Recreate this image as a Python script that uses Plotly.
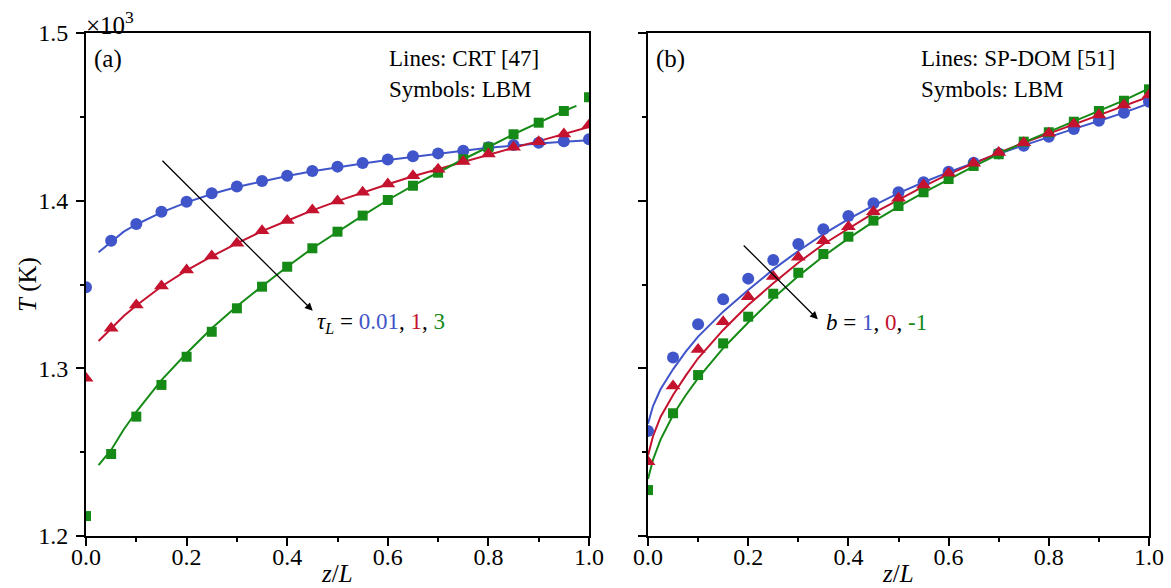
import plotly.graph_objects as go

# ---------------- data ----------------
z_sym = [0.0, 0.05, 0.1, 0.15, 0.2, 0.25, 0.3, 0.35, 0.4, 0.45, 0.5,
         0.55, 0.6, 0.65, 0.7, 0.75, 0.8, 0.85, 0.9, 0.95, 1.0]

# Panel (a): tau_L = 0.01, 1, 3  (T in 10^3 K)
a_blue_sym = [1.3483, 1.3761, 1.3861, 1.3934, 1.3994, 1.4044, 1.4085, 1.4117, 1.4149, 1.4177, 1.4203,
              1.4225, 1.4245, 1.4265, 1.4282, 1.4298, 1.4318, 1.4332, 1.4346, 1.4354, 1.4366]
a_red_sym = [1.2941, 1.3239, 1.3378, 1.3491, 1.3586, 1.3670, 1.3746, 1.3821, 1.3881, 1.3944, 1.3998,
             1.4050, 1.4099, 1.4149, 1.4187, 1.4233, 1.4278, 1.4318, 1.4352, 1.4398, 1.4451]
a_green_sym = [1.2119, 1.2489, 1.2712, 1.2901, 1.3069, 1.3218, 1.3358, 1.3487, 1.3606, 1.3716, 1.3815,
               1.3911, 1.4004, 1.4089, 1.4167, 1.4247, 1.4318, 1.4396, 1.4465, 1.4535, 1.4617]

a_z_line = [0.025, 0.05, 0.075, 0.1, 0.15, 0.2, 0.25, 0.3, 0.35, 0.4, 0.45, 0.5,
            0.55, 0.6, 0.65, 0.7, 0.75, 0.8, 0.85, 0.9, 0.95, 0.975, 1.0]
a_blue_line = [1.3692, 1.3755, 1.3815, 1.3858, 1.3930, 1.3990, 1.4040, 1.4082, 1.4115, 1.4147, 1.4175, 1.4200,
               1.4222, 1.4242, 1.4262, 1.4280, 1.4298, 1.4315, 1.4329, 1.4341, 1.4351, 1.4356, 1.4360]
a_red_line = [1.3163, 1.3235, 1.3312, 1.3375, 1.3488, 1.3584, 1.3668, 1.3745, 1.3818, 1.3880, 1.3942, 1.3997,
              1.4049, 1.4098, 1.4146, 1.4189, 1.4232, 1.4275, 1.4316, 1.4355, 1.4397, 1.4418, 1.4440]
a_green_line = [1.2423, 1.2513, 1.2635, 1.2741, 1.2930, 1.3090, 1.3239, 1.3370, 1.3490, 1.3606, 1.3716, 1.3815,
                1.3911, 1.4004, 1.4089, 1.4168, 1.4247, 1.4320, 1.4396, 1.4465, 1.4535, 1.4565, None]

# Panel (b): b = 1, 0, -1
b_blue_sym = [1.2626, 1.3064, 1.3263, 1.3412, 1.3535, 1.3646, 1.3742, 1.3829, 1.3908, 1.3984, 1.4050,
              1.4110, 1.4173, 1.4226, 1.4282, 1.4328, 1.4381, 1.4427, 1.4477, 1.4525, 1.4590]
b_red_sym = [1.2443, 1.2895, 1.3113, 1.3278, 1.3427, 1.3547, 1.3662, 1.3761, 1.3845, 1.3934, 1.4014,
             1.4093, 1.4163, 1.4223, 1.4288, 1.4346, 1.4402, 1.4457, 1.4511, 1.4571, 1.4630]
b_green_sym = [1.2274, 1.2732, 1.2960, 1.3149, 1.3308, 1.3445, 1.3570, 1.3682, 1.3785, 1.3881, 1.3968,
               1.4050, 1.4129, 1.4207, 1.4277, 1.4352, 1.4408, 1.4471, 1.4535, 1.4596, 1.4664]

b_z_line = [0.0, 0.01, 0.025, 0.05, 0.075, 0.1, 0.15, 0.2, 0.25, 0.3, 0.35, 0.4, 0.45, 0.5,
            0.55, 0.6, 0.65, 0.7, 0.75, 0.8, 0.85, 0.9, 0.95, 1.0]
b_blue_line = [1.2670, 1.2775, 1.2875, 1.2994, 1.3098, 1.3189, 1.3338, 1.3467, 1.3590, 1.3700, 1.3800, 1.3890,
               1.3970, 1.4045, 1.4110, 1.4170, 1.4225, 1.4280, 1.4330, 1.4380, 1.4428, 1.4475, 1.4525, 1.4580]
b_red_line = [1.2480, 1.2595, 1.2710, 1.2841, 1.2955, 1.3060, 1.3229, 1.3378, 1.3507, 1.3630, 1.3740, 1.3835,
              1.3925, 1.4005, 1.4085, 1.4158, 1.4222, 1.4285, 1.4345, 1.4400, 1.4455, 1.4508, 1.4565, 1.4620]
b_green_line = [1.2340, 1.2455, 1.2575, 1.2722, 1.2838, 1.2941, 1.3120, 1.3273, 1.3418, 1.3550, 1.3668, 1.3775,
                1.3875, 1.3965, 1.4048, 1.4128, 1.4205, 1.4277, 1.4348, 1.4410, 1.4472, 1.4535, 1.4598, 1.4670]

BLUE = "#3f55c9"
RED = "#c4122f"
GREEN = "#168a16"
FONT = "Liberation Serif"

W, H = 1171, 588

def px_x(p):
    return p / W

def px_y(p):
    return 1 - p / H

fig = go.Figure()

def add_panel(xa, ya, zl, lines, syms):
    for yv, col in zip(lines, (BLUE, RED, GREEN)):
        fig.add_trace(go.Scatter(x=zl, y=yv, mode="lines", line=dict(color=col, width=2),
                                 xaxis=xa, yaxis=ya, showlegend=False, hoverinfo="skip"))
    order = [(syms[0], BLUE, "circle", 12), (syms[2], GREEN, "square", 10), (syms[1], RED, "triangle-up", 13)]
    for yv, col, sym, sz in order:
        fig.add_trace(go.Scatter(x=z_sym, y=yv, mode="markers",
                                 marker=dict(color=col, symbol=sym, size=sz, line=dict(width=0)),
                                 xaxis=xa, yaxis=ya, showlegend=False))

add_panel("x", "y", a_z_line, (a_blue_line, a_red_line, a_green_line), (a_blue_sym, a_red_sym, a_green_sym))
add_panel("x2", "y2", b_z_line, (b_blue_line, b_red_line, b_green_line), (b_blue_sym, b_red_sym, b_green_sym))

xcommon = dict(range=[0, 1.0], dtick=0.2, tick0=0, tickformat=".1f", ticks="outside", ticklen=8,
               tickwidth=1.5, tickcolor="black", showline=True, linewidth=1.8, linecolor="black",
               mirror=True, showgrid=False, zeroline=False, automargin=False, ticklabelstandoff=-10,
               minor=dict(ticks="outside", ticklen=4, tickwidth=1.5, tickcolor="black", dtick=0.1, tick0=0, showgrid=False),
               tickfont=dict(family=FONT, size=24, color="black"))
ycommon = dict(range=[1.2, 1.5], dtick=0.1, tick0=1.2, tickformat=".1f", ticks="outside", ticklen=8,
               tickwidth=1.5, tickcolor="black", showline=True, linewidth=1.8, linecolor="black",
               mirror=True, showgrid=False, zeroline=False, automargin=False, ticklabelstandoff=3,
               minor=dict(ticks="outside", ticklen=4, tickwidth=1.5, tickcolor="black", dtick=0.05, tick0=1.2, showgrid=False),
               tickfont=dict(family=FONT, size=24, color="black"))

dom_y = [px_y(536), px_y(33)]
fig.update_layout(
    width=W, height=H,
    margin=dict(l=0, r=0, t=0, b=0),
    paper_bgcolor="white", plot_bgcolor="white",
    xaxis=dict(domain=[px_x(86), px_x(589)], anchor="y", **xcommon),
    yaxis=dict(domain=dom_y, anchor="x", **ycommon),
    xaxis2=dict(domain=[px_x(648), px_x(1149)], anchor="y2", **xcommon),
    yaxis2=dict(domain=dom_y, anchor="x2", showticklabels=False, **ycommon),
    font=dict(family=FONT, color="black"),
)

ann = []
TS = 23
tf = dict(family=FONT, size=TS, color="black")

def txt(text, x, y, size=TS, xa="center", ya="middle", **kw):
    return dict(text=text, xref="paper", yref="paper", x=px_x(x), y=px_y(y), xanchor=xa, yanchor=ya,
                showarrow=False, font=dict(family=FONT, size=size, color="black"), **kw)

# axis titles
ann.append(txt("<i>T</i> (K)", 28, 284, size=25, textangle=-90))
ann.append(txt("<i>z</i>/<i>L</i>", 337, 573, size=25))
ann.append(txt("<i>z</i>/<i>L</i>", 898, 573, size=25))
ann.append(txt("×10<sup>3</sup>", 84, 41, size=25, xa="left", ya="bottom"))
# panel labels
ann.append(txt("(a)", 92, 59, size=25, xa="left"))
ann.append(txt("(b)", 654, 59, size=25, xa="left"))
ann.append(txt("Lines: CRT [47]", 387, 58, xa="left"))
ann.append(txt("Symbols: LBM", 387, 89, xa="left"))
ann.append(txt("Lines: SP-DOM [51]", 919, 58, xa="left"))
ann.append(txt("Symbols: LBM", 919, 89, xa="left"))
# arrows
ann.append(dict(x=0.4507, y=1.3344, ax=0.149, ay=1.4247, xref="x", yref="y", axref="x", ayref="y",
                showarrow=True, arrowhead=2, arrowsize=1.2, arrowwidth=1.3, arrowcolor="black", text=""))
ann.append(dict(x=0.339, y=1.3292, ax=0.188, ay=1.3742, xref="x2", yref="y2", axref="x2", ayref="y2",
                showarrow=True, arrowhead=2, arrowsize=1.2, arrowwidth=1.3, arrowcolor="black", text=""))
ann.append(dict(text=("<i>τ<sub>L</sub></i> = <span style='color:%s'>0.01</span>, "
                      "<span style='color:%s'>1</span>, <span style='color:%s'>3</span>") % (BLUE, RED, GREEN),
                xref="x", yref="y", x=0.455, y=1.327, xanchor="left", yanchor="middle", showarrow=False,
                font=tf))
ann.append(dict(text=("<i>b</i> = <span style='color:%s'>1</span>, "
                      "<span style='color:%s'>0</span>, <span style='color:%s'>-1</span>") % (BLUE, RED, GREEN),
                xref="x2", yref="y2", x=0.351, y=1.3275, xanchor="left", yanchor="middle", showarrow=False,
                font=tf))
fig.update_layout(annotations=ann)

fig.write_html("out.html", config={"displayModeBar": False},
               post_script="document.body.style.margin='0px';document.body.style.overflow='hidden';")
